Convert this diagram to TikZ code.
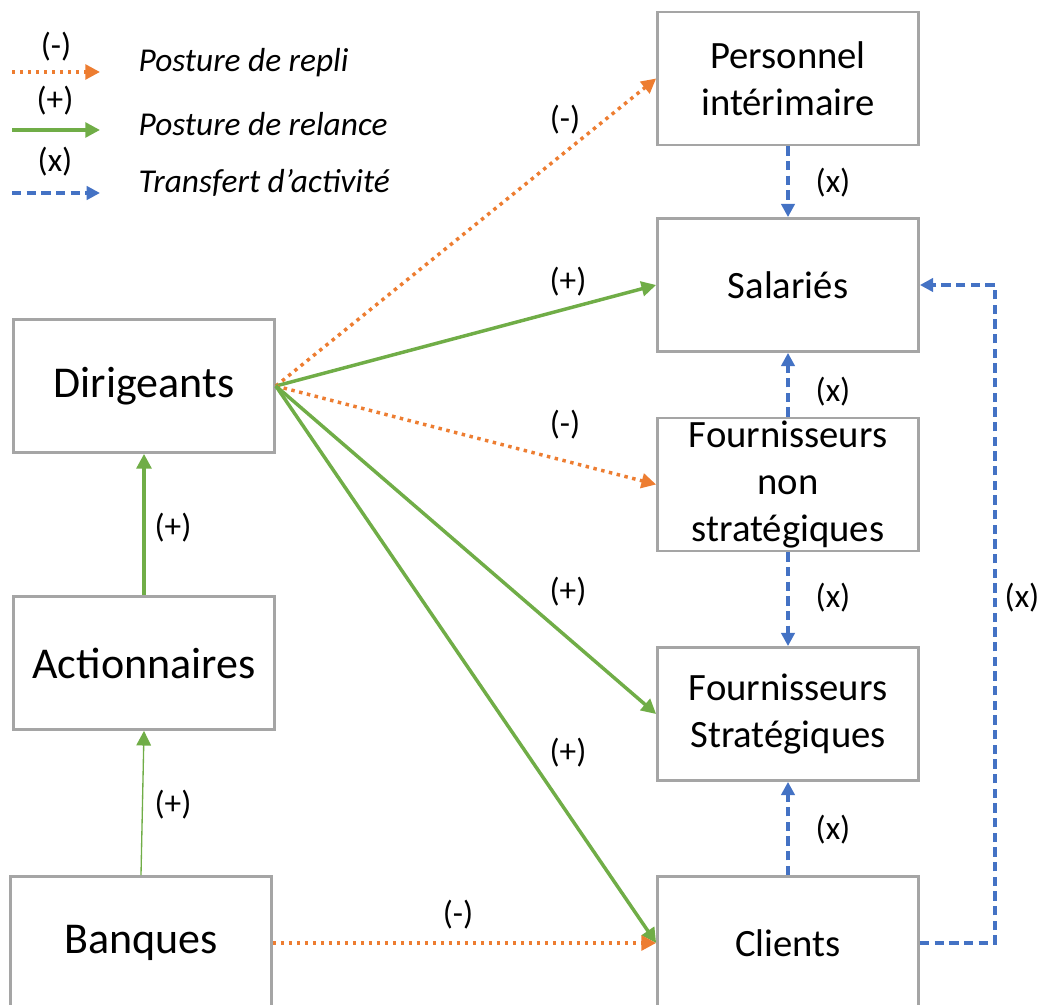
\documentclass[tikz,border=0pt]{standalone}
\usepackage{fontspec}
\setmainfont{Carlito}
\usetikzlibrary{arrows.meta, positioning}
\definecolor{repliorange}{RGB}{237,125,49}
\definecolor{relancevert}{RGB}{112,173,71}
\definecolor{transfertbleu}{RGB}{68,114,196}
\definecolor{bordgris}{RGB}{165,165,165}
\tikzset{
    acteur/.style={draw=bordgris, line width=1.8pt, fill=white, inner sep=0pt,
        minimum width=196pt, minimum height=100pt, align=center},
    grand/.style={font=\fontsize{33}{40}\selectfont},
    moyen/.style={font=\fontsize{29}{35}\selectfont},
    lbl/.style={font=\fontsize{25}{30}\selectfont},
    legende/.style={font=\fontsize{25}{30}\selectfont\itshape, anchor=west},
    repli/.style={draw=repliorange, line width=2.6pt, dash pattern=on 2.6pt off 3.4pt,
        -{Triangle[length=11pt,width=11pt]}},
    relance/.style={draw=relancevert, line width=2.6pt,
        -{Triangle[length=11pt,width=11pt]}},
    transfert/.style={draw=transfertbleu, line width=2.6pt, dash pattern=on 7pt off 4pt,
        -{Triangle[length=10pt,width=10pt]}}
}

\begin{document}
\begin{tikzpicture}[x=0.75pt, y=-0.75pt]
    \useasboundingbox (0,0) rectangle (1042,1005);
    \clip (0,0) rectangle (1042,1005);

    % legende
    \node[lbl] (sgnrepli) at (56,47) {(-)};
    \coordinate (repA) at (12,72);
    \coordinate (repB) at (100,72);
    \draw[repli] (repA) -- (repB);
    \node[legende] (txtrepli) at (134,63) {Posture de repli};
    \node[lbl] (sgnrelance) at (55,101) {(+)};
    \coordinate (relA) at (12,130);
    \coordinate (relB) at (100,130);
    \draw[relance] (relA) -- (relB);
    \node[legende] (txtrelance) at (134,124) {Posture de relance};
    \node[lbl] (sgntransfert) at (55,162) {(x)};
    \coordinate (traA) at (12,193);
    \coordinate (traB) at (100,193);
    \draw[transfert] (traA) -- (traB);
    \node[legende] (txttransfert) at (134,183) {Transfert d’activité};

    % acteurs
    \node[acteur, grand] (dirigeants) at (144,386) {Dirigeants};
    \node[acteur, grand] (actionnaires) at (144,663) {Actionnaires};
    \node[acteur, grand] (banques) at (141,943) {Banques};
    \node[acteur, moyen] (interim) at (788,78.5) {Personnel\\intérimaire};
    \node[acteur, moyen] (salaries) at (788,285) {Salariés};
    \node[acteur, moyen] (fnonstrat) at (788,484.5) {Fournisseurs\\non\\stratégiques};
    \node[acteur, moyen] (fstrat) at (788,714) {Fournisseurs\\Stratégiques};
    \node[acteur, moyen] (clients) at (788,943) {Clients};

    % postures
    \draw[repli] (dirigeants.east) -- (interim.west);
    \draw[relance] (dirigeants.east) -- (salaries.west);
    \draw[repli] (dirigeants.east) -- (fnonstrat.west);
    \draw[relance] (dirigeants.east) -- (fstrat.west);
    \draw[relance] (dirigeants.east) -- (clients.west);
    \draw[repli] (banques.east) -- (clients.west);
    \draw[relance] (actionnaires.north) -- (dirigeants.south);
    \draw[relance, line width=1pt] (banques.north) -- (actionnaires.south);

    % transferts
    \draw[transfert] (interim.south) -- (salaries.north);
    \draw[transfert] (fnonstrat.north) -- (salaries.south);
    \draw[transfert] (fnonstrat.south) -- (fstrat.north);
    \draw[transfert] (clients.north) -- (fstrat.south);
    \coordinate (retour) at (995,600);
    \draw[transfert] (clients.east) -| (retour) |- (salaries.east);

    % etiquettes
    \node[lbl] (e1) at (565,120) {(-)};
    \node[lbl] (e2) at (568,282) {(+)};
    \node[lbl] (e3) at (565,425) {(-)};
    \node[lbl] (e4) at (568,592) {(+)};
    \node[lbl] (e5) at (568,753) {(+)};
    \node[lbl] (e6) at (458,915) {(-)};
    \node[lbl] (e7) at (173,528) {(+)};
    \node[lbl] (e8) at (173,805) {(+)};
    \node[lbl] (x1) at (833,183) {(x)};
    \node[lbl] (x2) at (833,392) {(x)};
    \node[lbl] (x3) at (833,598) {(x)};
    \node[lbl] (x4) at (833,830) {(x)};
    \node[lbl] (x5) at (1022,598) {(x)};
\end{tikzpicture}
\end{document}
